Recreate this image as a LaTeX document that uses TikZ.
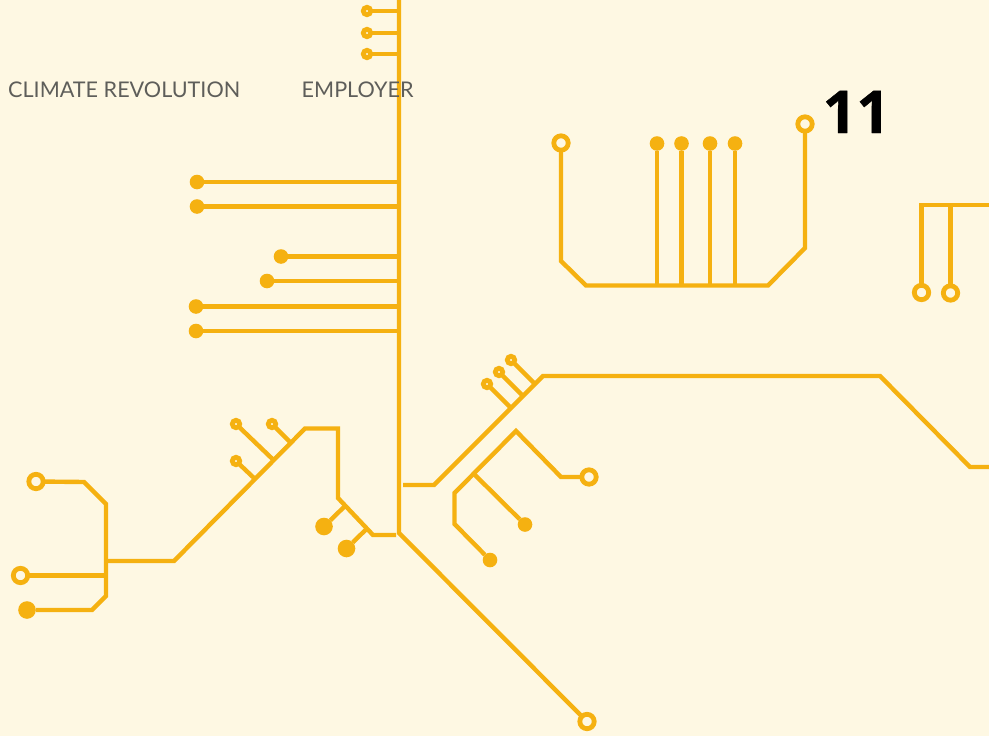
\documentclass[tikz,border=0pt]{standalone}
\usepackage{fontspec}
\setmainfont{Lato}
\newfontfamily\numfont[BoldFeatures={FakeBold=0.6}]{Open Sans}
\definecolor{bgc}{HTML}{FEF8E3}
\definecolor{gold}{HTML}{F5B111}
\definecolor{lab}{HTML}{5E5E5A}
\begin{document}
\begin{tikzpicture}[x=1pt,y=-1pt,
  wire/.style={draw=gold,line width=4.4pt,line cap=butt,line join=miter},
  endpt/.style={circle,inner sep=0pt,outer sep=0pt},
  ring/.style={endpt,draw=gold,fill=bgc,line width=4.8pt,minimum size=14.4pt},
  tinyring/.style={endpt,draw=gold,fill=bgc,line width=4.8pt,minimum size=7.4pt},
  dotm/.style={endpt,fill=gold,minimum size=14.6pt},
  dotb/.style={endpt,fill=gold,minimum size=17.6pt},
  lbl/.style={anchor=base west,inner sep=0pt,text=lab,font=\fontsize{21.6}{26}\selectfont}]
\fill[bgc] (0,0) rectangle (989,736);
\useasboundingbox (0,0) rectangle (989,736);
\clip (0,0) rectangle (989,736);
% trunk
\coordinate (trunktop) at (399,-4);
\coordinate (trunkend) at (399,533);
\foreach \n/\y in {a/11,b/33,c/54}{
  \coordinate (tr\n) at (399,\y);
  \node[tinyring] (r\n) at (367,\y) {};
  \draw[wire] (r\n) -- (tr\n);
}
\foreach \n/\x/\y in {d/197/182,e/197/206.5,f/281/256.5,g/267/281,h/196/306.5,i/196/331}{
  \coordinate (tr\n) at (399,\y);
  \node[dotm] (r\n) at (\x,\y) {};
  \draw[wire] (r\n) -- (tr\n);
}
\node[ring] (rbot) at (587,721.5) {};
\draw[wire] (trunktop) -- (trunkend) -- (rbot);
% left cluster
\coordinate (l0) at (106,561);
\coordinate (l1) at (174,561);
\coordinate (l2) at (305,428.5);
\coordinate (l3) at (338,428.5);
\coordinate (l4) at (338,498);
\coordinate (l5) at (373,535);
\coordinate (l6) at (396,535);
\draw[wire] (l0) -- (l1) -- (l2) -- (l3) -- (l4) -- (l5) -- (l6);
\node[tinyring] (s1) at (236,424) {};
\node[tinyring] (s2) at (272,424) {};
\node[tinyring] (s3) at (236,461) {};
\coordinate (s1e) at (273.5,460);
\coordinate (s2e) at (291,443);
\coordinate (s3e) at (255,479);
\draw[wire] (s1) -- (s1e);
\draw[wire] (s2) -- (s2e);
\draw[wire] (s3) -- (s3e);
\node[dotb] (b1) at (324,526.5) {};
\node[dotb] (b2) at (346.5,548.5) {};
\coordinate (b1e) at (345,506);
\coordinate (b2e) at (367,528.5);
\draw[wire] (b1) -- (b1e);
\draw[wire] (b2) -- (b2e);
% far left
\node[ring] (fa) at (36,481.5) {};
\node[ring] (fb) at (20.5,575.5) {};
\node[dotb] (fc) at (27,610) {};
\coordinate (f0) at (84,482);
\coordinate (f2) at (106,504);
\coordinate (f3) at (106,596);
\coordinate (f4) at (92,610);
\coordinate (f5) at (106,575.5);
\draw[wire] (fa) -- (f0) -- (f2) -- (f3) -- (f4) -- (fc);
\draw[wire] (fb) -- (f5);
% right long branch
\coordinate (m0) at (403,485);
\coordinate (m1) at (434,485);
\coordinate (m2) at (543,376);
\coordinate (m3) at (880,376);
\coordinate (m4) at (970,467);
\coordinate (m5) at (994,467);
\draw[wire] (m0) -- (m1) -- (m2) -- (m3) -- (m4) -- (m5);
\node[tinyring] (p1) at (487,384) {};
\node[tinyring] (p2) at (499,372) {};
\node[tinyring] (p3) at (511,360) {};
\coordinate (p1e) at (511,408);
\coordinate (p2e) at (523,396);
\coordinate (p3e) at (535,384);
\draw[wire] (p1) -- (p1e);
\draw[wire] (p2) -- (p2e);
\draw[wire] (p3) -- (p3e);
% middle tree
\node[ring] (q1) at (589,477) {};
\node[dotm] (q2) at (490,560) {};
\node[dotm] (q3) at (525,524.5) {};
\coordinate (q4) at (561,477);
\coordinate (q5) at (516,431);
\coordinate (q6) at (454.5,493);
\coordinate (q7) at (454.5,524);
\coordinate (q8) at (474,474);
\draw[wire] (q1) -- (q4) -- (q5) -- (q6) -- (q7) -- (q2);
\draw[wire] (q8) -- (q3);
% comb
\node[ring] (c1) at (561,143) {};
\node[ring] (c2) at (805,124) {};
\coordinate (c3) at (561,261);
\coordinate (c4) at (586,285.5);
\coordinate (c5) at (768,285.5);
\coordinate (c6) at (805,248);
\draw[wire] (c1) -- (c3) -- (c4) -- (c5) -- (c6) -- (c2);
\foreach \n/\x in {w/657,v/681.5,u/710,z/735}{
  \node[dotm] (d\n) at (\x,143.5) {};
  \coordinate (e\n) at (\x,285);
  \draw[wire] (d\n) -- (e\n);
}
% top right
\node[ring] (g1) at (921.5,292.5) {};
\node[ring] (g2) at (950.5,293) {};
\coordinate (g3) at (921.5,205);
\coordinate (g4) at (994,205);
\coordinate (g5) at (950.5,205);
\draw[wire] (g1) -- (g3) -- (g4);
\draw[wire] (g2) -- (g5);
% text
\node[lbl] (t1) at (8,97.5) {CLIMATE REVOLUTION};
\node[lbl] (t2) at (301.5,97.5) {EMPLOYER};
\node[anchor=base west,inner sep=0pt,text=black,font=\numfont\bfseries\fontsize{59}{60}\selectfont] (n11) at (822.5,133) {11};
\end{tikzpicture}
\end{document}
